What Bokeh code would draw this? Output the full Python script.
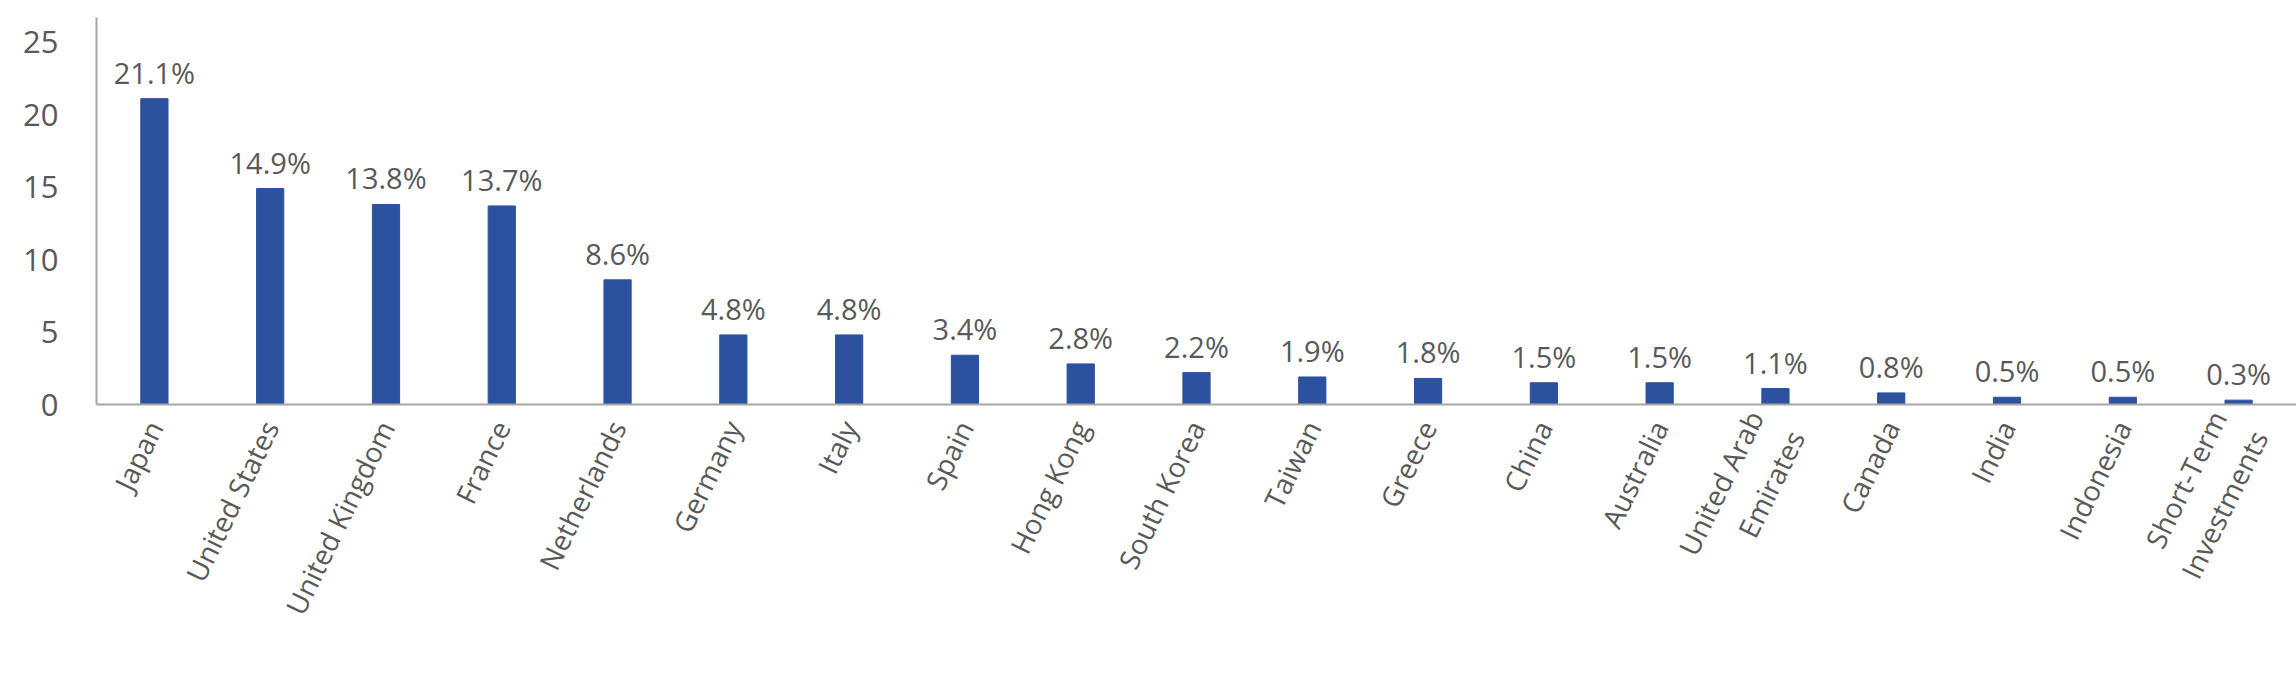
import math
from bokeh.plotting import figure
from bokeh.models import ColumnDataSource, FactorRange, Range1d, FixedTicker
from bokeh.core.properties import value
from bokeh.embed import file_html
from bokeh.resources import INLINE

categories = ["Japan", "United States", "United Kingdom", "France", "Netherlands",
              "Germany", "Italy", "Spain", "Hong Kong", "South Korea", "Taiwan",
              "Greece", "China", "Australia", "United Arab\nEmirates", "Canada",
              "India", "Indonesia", "Short-Term\nInvestments"]
values = [21.1, 14.9, 13.8, 13.7, 8.6, 4.8, 4.8, 3.4, 2.8, 2.2, 1.9, 1.8, 1.5,
          1.5, 1.1, 0.8, 0.5, 0.5, 0.3]
labels = [f"{v:.1f}%" for v in values]
y_ticks = [0, 5, 10, 15, 20, 25]

FONT = "Open Sans"
TEXT_COLOR = "#595959"
AXIS_COLOR = "#A6A6A6"
BAR_COLOR = "#2C519E"

src = ColumnDataSource(dict(cat=categories, val=values, lab=labels))

p = figure(x_range=FactorRange(*categories, range_padding=0),
           y_range=Range1d(0, 26.7),
           width=2296, height=680, output_backend="svg", toolbar_location=None,
           min_border_left=96, min_border_right=0, min_border_top=17,
           min_border_bottom=276)
p.outline_line_color = None
p.grid.visible = False

p.vbar(x="cat", top="val", width=0.235, source=src, color=BAR_COLOR)
p.text(x="cat", y="val", text="lab", source=src, text_align="center",
       text_baseline="bottom", y_offset=-7, text_font=value(FONT),
       text_font_size="29px", text_color=TEXT_COLOR)

p.yaxis.ticker = FixedTicker(ticks=y_ticks)
for ax in (p.xaxis, p.yaxis):
    ax.axis_line_color = AXIS_COLOR
    ax.axis_line_width = 2
    ax.major_tick_line_color = None
    ax.minor_tick_line_color = None
    ax.major_label_text_font = FONT
    ax.major_label_text_color = TEXT_COLOR
p.yaxis.major_label_text_font_size = "31px"
p.yaxis.major_label_standoff = 32
p.xaxis.major_label_text_font_size = "28px"
p.xaxis.major_label_orientation = math.radians(64)
p.xaxis.major_label_standoff = 12

open("out.html", "w").write(file_html(p, INLINE))
